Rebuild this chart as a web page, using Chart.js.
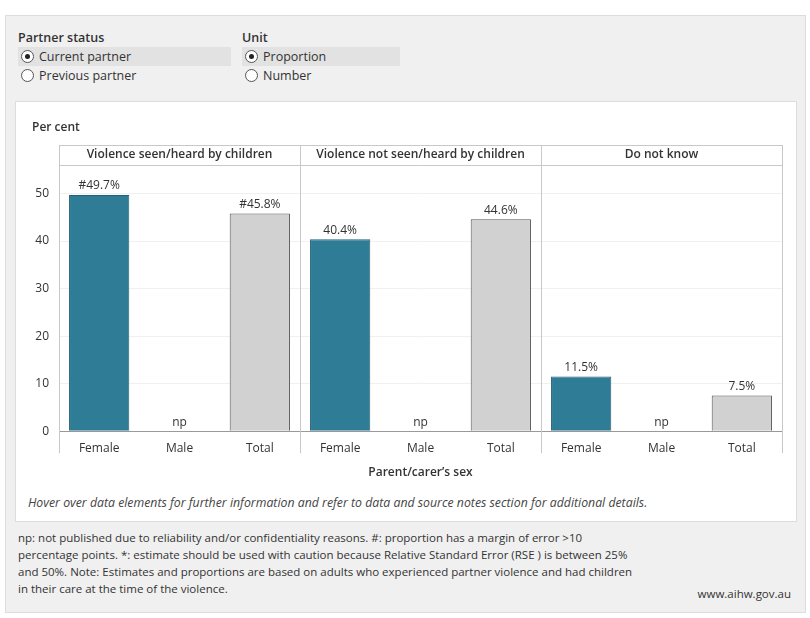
<!DOCTYPE html>
<html><head><meta charset="utf-8">
<script src="https://cdn.jsdelivr.net/npm/chart.js@4"></script>
<style>
body{margin:0;width:810px;height:618px;background:#fff;font-family:"Open Sans",Lato,sans-serif;color:#333;}
#outer{position:absolute;left:5px;top:15px;width:801px;height:598px;background:#f0f0f0;border:1px solid #ddd;box-sizing:border-box}
.grp{position:absolute;top:13px;font-size:12.5px}
.grp b{font-weight:600;display:block;margin-bottom:1px;color:#333}
.opt{display:flex;align-items:center;height:19px;padding-left:3px;font-size:12.5px}
.opt.sel{background:#e2e2e2}
.r{width:11px;height:11px;border:1px solid #555;border-radius:50%;margin-right:5px;position:relative;background:#fff}
.opt.sel .r:after{content:"";position:absolute;left:3px;top:3px;width:5px;height:5px;border-radius:50%;background:#222}
#panel{position:absolute;left:9px;top:85px;width:782px;height:421px;background:#fff;border:1px solid #ddd;box-sizing:border-box}
#wrap{position:absolute;left:0;top:0;width:780px;height:382px}
#hover{position:absolute;left:12px;top:392px;font-size:12.3px;font-style:italic;color:#444}
#notes{position:absolute;left:12px;top:513px;width:625px;font-size:11.5px;line-height:17px;color:#333}
#site{position:absolute;right:14px;top:570px;font-size:11.5px;color:#333}
</style></head><body>
<div id="outer">
 <div class="grp" style="left:12px"><b>Partner status</b>
  <div class="opt sel" style="width:210px"><span class="r"></span>Current partner</div>
  <div class="opt"><span class="r"></span>Previous partner</div></div>
 <div class="grp" style="left:236px"><b>Unit</b>
  <div class="opt sel" style="width:155px"><span class="r"></span>Proportion</div>
  <div class="opt"><span class="r"></span>Number</div></div>
 <div id="panel"><div id="wrap"><canvas id="c"></canvas></div>
  <div id="hover">Hover over data elements for further information and refer to data and source notes section for additional details.</div></div>
 <div id="notes">np: not published due to reliability and/or confidentiality reasons. #: proportion has a margin of error &gt;10 percentage points. *: estimate should be used with caution because Relative Standard Error (RSE ) is between 25% and 50%. Note: Estimates and proportions are based on adults who experienced partner violence and had children in their care at the time of the violence.</div>
 <div id="site">www.aihw.gov.au</div>
</div>
<script>
const panels = ['Violence seen/heard by children', 'Violence not seen/heard by children', 'Do not know'];
const sexes = ['Female', 'Male', 'Total'];
const values = [49.7, null, 45.8, 40.4, null, 44.6, 11.5, null, 7.5];
const flags = ['#', '', '#', '', '', '', '', '', ''];
const yTicks = [0, 10, 20, 30, 40, 50];

const labels = [];
panels.forEach(() => sexes.forEach(s => labels.push(s)));
const colors = labels.map(s => s === 'Total' ? '#d0d1d0' : '#2e7c96');
const borders = labels.map(s => s === 'Total' ? '#555' : '#245f73');

const facets = {
  id: 'facets',
  afterDraw(c) {
    const ctx = c.ctx, a = c.chartArea, x = c.scales.x;
    const step = (a.right - a.left) / labels.length;
    const top = a.top - 20;
    ctx.save();
    ctx.strokeStyle = '#c8c8c8'; ctx.lineWidth = 1;
    ctx.beginPath();
    ctx.moveTo(a.left, top + .5); ctx.lineTo(a.right, top + .5);
    ctx.moveTo(a.left, a.top + .5); ctx.lineTo(a.right, a.top + .5);
    for (let p = 0; p <= panels.length; p++) {
      const px = Math.round(a.left + p * 3 * step) + .5;
      ctx.moveTo(px, top); ctx.lineTo(px, a.bottom + 22);
    }
    ctx.stroke();
    ctx.fillStyle = '#333'; ctx.textAlign = 'center'; ctx.textBaseline = 'middle';
    ctx.font = '600 12px "Open Sans"';
    panels.forEach((p, i) => ctx.fillText(p, a.left + (i * 3 + 1.5) * step, top + 10));
    ctx.textAlign = 'left'; ctx.fillText('Per cent', 16, 26);
    ctx.textAlign = 'center'; ctx.textBaseline = 'bottom'; ctx.font = '12px "Open Sans"';
    const y = c.scales.y;
    values.forEach((v, i) => {
      const cx = x.getPixelForValue(i);
      if (v === null) ctx.fillText('np', cx, a.bottom - 3);
      else ctx.fillText(flags[i] + v.toFixed(1) + '%', cx, y.getPixelForValue(v) - 3);
    });
    ctx.restore();
  }
};

new Chart(document.getElementById('c'), {
  type: 'bar',
  data: { labels, datasets: [{ data: values, backgroundColor: colors, borderColor: borders, borderWidth: 1,
    categoryPercentage: 1, barPercentage: 0.75 }] },
  options: {
    responsive: true, maintainAspectRatio: false, animation: false,
    layout: { padding: { top: 63, right: 14, left: 0, bottom: 0 } },
    plugins: { legend: { display: false }, tooltip: { enabled: false } },
    scales: {
      x: { grid: { display: false }, border: { color: '#999' },
        ticks: { color: '#333', font: { size: 12, family: 'Open Sans' }, padding: 2 },
        title: { display: true, text: 'Parent/carer\u2019s sex', color: '#333', font: { size: 12, weight: '600', family: 'Open Sans' }, padding: { top: 8 } } },
      y: { min: 0, max: 56, afterBuildTicks: s => { s.ticks = yTicks.map(v => ({ value: v })); },
        afterFit: s => { s.width = 43; },
        grid: { color: '#f0f0f0', drawTicks: false }, border: { display: false },
        ticks: { color: '#333', font: { size: 12, family: 'Open Sans' }, padding: 10 } }
    }
  },
  plugins: [facets]
});
</script>
</body></html>
